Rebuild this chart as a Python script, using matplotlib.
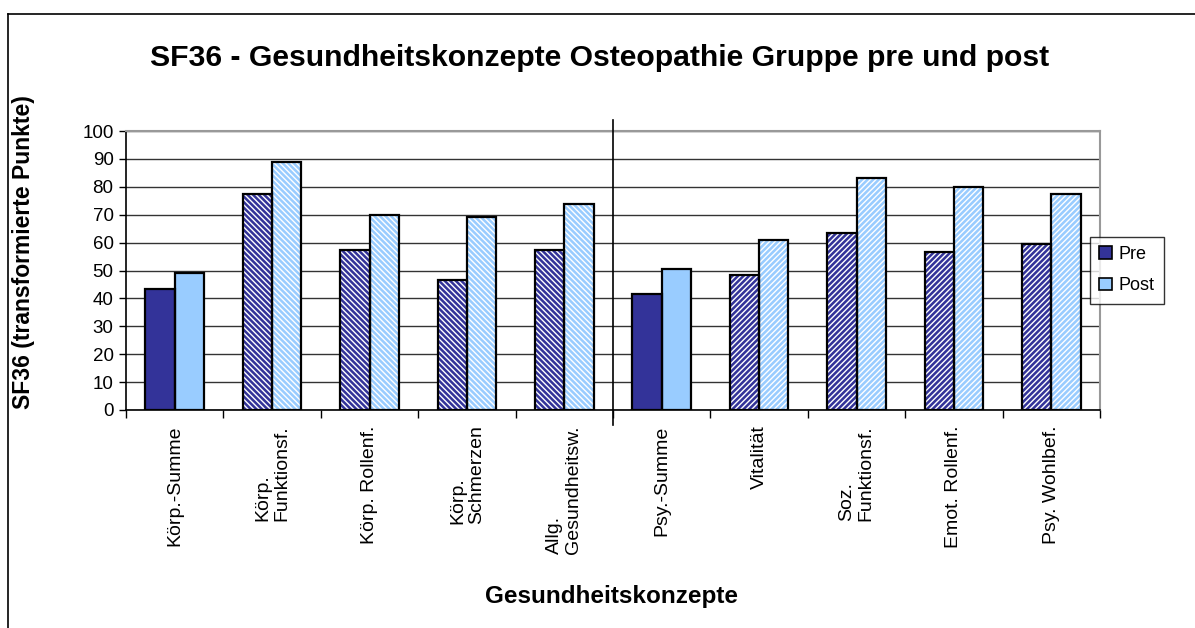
import matplotlib
matplotlib.use("Agg")
import matplotlib.pyplot as plt
import numpy as np
from matplotlib.patches import Patch

plt.rcParams['font.family'] = ['Liberation Sans', 'DejaVu Sans']
plt.rcParams['hatch.linewidth'] = 1.0

categories = ["Körp.-Summe", "Körp.\nFunktionsf.", "Körp. Rollenf.", "Körp.\nSchmerzen",
              "Allg.\nGesundheitsw.", "Psy.-Summe", "Vitalität", "Soz.\nFunktionsf.",
              "Emot. Rollenf.", "Psy. Wohlbef."]
pre = [43.5, 77.5, 57.5, 46.5, 57.5, 41.5, 48.5, 63.5, 56.5, 59.5]
post = [49, 89, 70, 69, 74, 50.5, 61, 83, 80, 77.5]
hatches = ["", "\\" * 6, "\\" * 6, "\\" * 6, "\\" * 6, "", "/" * 6, "/" * 6, "/" * 6, "/" * 6]

pre_color = "#333399"
post_color = "#99CCFF"

fig = plt.figure(figsize=(11.95, 6.28), dpi=100)
ax = fig.add_axes([126/1195, 1 - 410/628, 974/1195, 279/628])

x = np.arange(len(categories))
w = 0.3
for xi, p, q, h in zip(x, pre, post, hatches):
    for val, off, col in ((p, -w/2, pre_color), (q, w/2, post_color)):
        if h:
            ax.bar(xi + off, val, w, color=col, edgecolor="white", hatch=h, linewidth=0, zorder=3)
        else:
            ax.bar(xi + off, val, w, color=col, linewidth=0, zorder=3)
        ax.bar(xi + off, val, w, fill=False, edgecolor="black", linewidth=1.6, zorder=4)

ax.set_xlim(-0.5, len(categories) - 0.5)
ax.set_ylim(0, 100)
ax.set_yticks(range(0, 101, 10))
ax.tick_params(axis='y', labelsize=13.5, direction='out', length=5, width=1, pad=4)
ax.set_xticks(x)
ax.set_xticklabels(categories, rotation=90, fontsize=14, va='top', ha='center',
                   multialignment='left', linespacing=1.15)
ax.tick_params(axis='x', length=0, pad=11)
ax.set_xticks(np.arange(-0.5, len(categories), 1), minor=True)
ax.tick_params(axis='x', which='minor', direction='out', length=6, width=1)

ax.yaxis.grid(True, color="#333333", linewidth=1, zorder=0)
ax.set_axisbelow(True)
for s in ("top", "right"):
    ax.spines[s].set_color("#999999")
    ax.spines[s].set_linewidth(1.5)
for s in ("left", "bottom"):
    ax.spines[s].set_color("black")
    ax.spines[s].set_linewidth(1.2)

ax.plot([4.5, 4.5], [-5.5, 104], color="black", linewidth=1.2, clip_on=False, zorder=5)

ax.set_ylabel("SF36 (transformierte Punkte)", fontsize=16.5, fontweight="bold")
ax.yaxis.set_label_coords(-0.093, 0.565)
fig.text(612/1195, 1 - 597/628, "Gesundheitskonzepte", fontsize=17.5, fontweight="bold",
         ha="center", va="center")
fig.text(600/1195, 1 - 58/628, "SF36 - Gesundheitskonzepte Osteopathie Gruppe pre und post",
         fontsize=21.7, fontweight="bold", ha="center", va="center")

handles = [Patch(facecolor=pre_color, edgecolor="black", linewidth=1.2),
           Patch(facecolor=post_color, edgecolor="black", linewidth=1.2)]
leg = fig.legend(handles, ["Pre", "Post"], loc="upper left",
                 bbox_to_anchor=(1090/1195, 1 - 237/628), fontsize=13,
                 frameon=True, fancybox=False, edgecolor="black",
                 handlelength=0.7, handleheight=0.7, handletextpad=0.4,
                 borderpad=0.5, labelspacing=0.8, borderaxespad=0)
leg.get_frame().set_linewidth(1)

fig.add_artist(plt.Line2D([8/1195, 8/1195], [0, 1 - 14/628], transform=fig.transFigure,
                          color="black", linewidth=1.2))
fig.add_artist(plt.Line2D([8/1195, 1], [1 - 14/628, 1 - 14/628], transform=fig.transFigure,
                          color="black", linewidth=1.2))

fig.savefig("out.png", dpi=100)
